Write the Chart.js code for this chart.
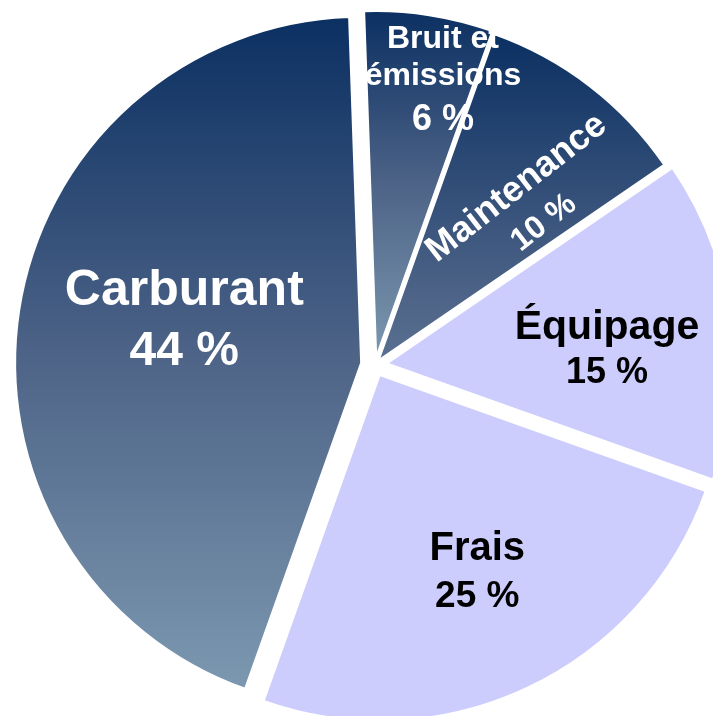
<!DOCTYPE html>
<html lang="fr">

<head>
    <meta charset="UTF-8">
    <title>Répartition des coûts</title>
    <style>
        html,
        body {
            margin: 0;
            padding: 0;
            background: #ffffff;
        }

        .chart-box {
            width: 713px;
            height: 716px;
            overflow: hidden;
        }
    </style>
    <script src="https://cdn.jsdelivr.net/npm/chart.js"></script>
</head>

<body>
    <div class="chart-box">
        <canvas id="costChart" width="713" height="716"></canvas>
    </div>

    <script>
        // data
        const categories = ['Bruit et émissions', 'Maintenance', 'Équipage', 'Frais', 'Carburant'];
        const shares = [6, 10, 15, 25, 44];
        const nameLines = [['Bruit et', 'émissions'], ['Maintenance'], ['Équipage'], ['Frais'], ['Carburant']];

        // look
        const RADIUS = 346;
        const ROTATION = -2;
        const explode = [8, 6, 12, 11, 14];
        const darkSlice = [true, true, false, false, true];
        const gradStretch = [1, 1.6, 1, 1, 1];
        const LIGHT = '#cdcdfd';

        // label placement: angle (deg from top) and distance from the pie centre,
        // then each line: font size, baseline shift
        const labelStyle = [
            { angle: 13.8, dist: 285, rotate: 0, color: '#ffffff', name: [32, -40, 32, -3], pct: [36, 42] },
            { angle: 43.4, dist: 223, rotate: -38, color: '#ffffff', name: [36, -9], pct: [32, 34] },
            { angle: 89.0, dist: 232, rotate: 0, color: '#000000', name: [41, -22], pct: [36, 22] },
            { angle: 155.0, dist: 242, rotate: 0, color: '#000000', name: [40, -24], pct: [37, 23] },
            { angle: 278.9, dist: 193, rotate: 0, color: '#ffffff', name: [50, -30], pct: [48, 30] }
        ];

        function pieCentre(chart) {
            const a = chart.chartArea;
            return { x: (a.left + a.right) / 2, y: (a.top + a.bottom) / 2 };
        }

        // vertical extent of a slice, used for its own gradient
        function sliceBounds(chart, i) {
            const c = pieCentre(chart);
            const total = shares.reduce((s, v) => s + v, 0);
            let start = ROTATION;
            for (let k = 0; k < i; k++) start += shares[k] / total * 360;
            const end = start + shares[i] / total * 360;
            const mid = (start + end) / 2 * Math.PI / 180;
            const oy = c.y - Math.cos(mid) * explode[i];
            let top = oy, bottom = oy;
            for (let s = 0; s <= 48; s++) {
                const a = (start + (end - start) * s / 48) * Math.PI / 180;
                const y = oy - Math.cos(a) * RADIUS;
                top = Math.min(top, y);
                bottom = Math.max(bottom, y);
            }
            return { top, bottom: top + (bottom - top) * gradStretch[i] };
        }

        function sliceColor(context) {
            const i = context.dataIndex;
            if (!darkSlice[i]) return LIGHT;
            const chart = context.chart;
            if (!chart.chartArea) return '#4d6387';
            const b = sliceBounds(chart, i);
            const g = chart.ctx.createLinearGradient(0, b.top, 0, b.bottom);
            g.addColorStop(0, '#0b3062');
            g.addColorStop(0.5, '#4d6387');
            g.addColorStop(1, '#7c98b0');
            return g;
        }

        // pull every slice out along its middle angle
        const explodePlugin = {
            id: 'explode',
            afterDatasetsUpdate(chart) {
                chart.getDatasetMeta(0).data.forEach((arc, i) => {
                    const mid = (arc.startAngle + arc.endAngle) / 2;
                    arc.x += Math.cos(mid) * explode[i];
                    arc.y += Math.sin(mid) * explode[i];
                });
            }
        };

        const sliceLabels = {
            id: 'sliceLabels',
            afterDatasetsDraw(chart) {
                const ctx = chart.ctx;
                const c = pieCentre(chart);
                categories.forEach((cat, i) => {
                    const st = labelStyle[i];
                    const a = st.angle * Math.PI / 180;
                    const x = c.x + Math.sin(a) * st.dist;
                    const y = c.y - Math.cos(a) * st.dist;
                    const lines = [];
                    nameLines[i].forEach((txt, k) => {
                        lines.push({ txt, size: st.name[k * 2], dy: st.name[k * 2 + 1] });
                    });
                    lines.push({ txt: shares[i] + ' %', size: st.pct[0], dy: st.pct[1] });

                    ctx.save();
                    ctx.translate(x, y);
                    ctx.rotate(st.rotate * Math.PI / 180);
                    ctx.fillStyle = st.color;
                    ctx.textAlign = 'center';
                    ctx.textBaseline = 'alphabetic';
                    lines.forEach(l => {
                        ctx.font = 'bold ' + l.size + 'px "Liberation Sans", Arial, sans-serif';
                        ctx.fillText(l.txt, 0, l.dy);
                    });
                    ctx.restore();
                });
            }
        };

        const cx = 375, cy = 365;

        new Chart(document.getElementById('costChart'), {
            type: 'pie',
            data: {
                labels: categories,
                datasets: [{
                    data: shares,
                    backgroundColor: sliceColor,
                    borderColor: '#ffffff',
                    borderWidth: 2
                }]
            },
            options: {
                responsive: false,
                animation: false,
                radius: RADIUS,
                rotation: ROTATION,
                layout: {
                    padding: { left: 2 * cx - 713, top: 2 * cy - 716, right: 0, bottom: 0 }
                },
                plugins: {
                    legend: { display: false },
                    tooltip: { enabled: false }
                },
                events: []
            },
            plugins: [explodePlugin, sliceLabels]
        });
    </script>
</body>

</html>
